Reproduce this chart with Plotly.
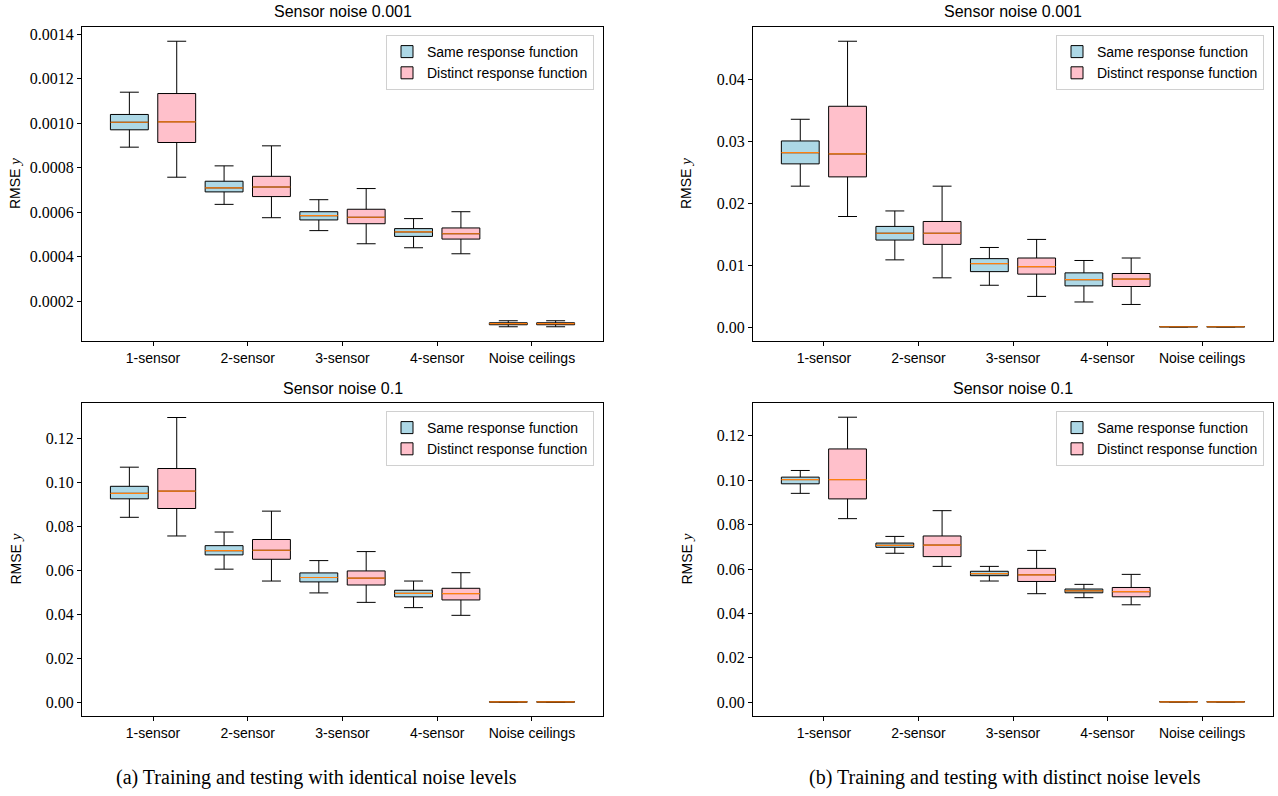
import plotly.graph_objects as go

categories = ["1-sensor", "2-sensor", "3-sensor", "4-sensor", "Noise ceilings"]
positions = [1, 2, 3, 4, 5]
series_names = ["Same response function", "Distinct response function"]
fill_colors = ["#add8e6", "#ffc0cb"]
median_color = "#ff7f0e"

# ---- (a) identical noise levels, sensor noise 0.001 ----
a_top_same_low = [0.000893, 0.000636, 0.000518, 0.000441, 0.000086]
a_top_same_q1 = [0.000971, 0.000692, 0.000566, 0.000492, 0.000095]
a_top_same_med = [0.001005, 0.000710, 0.000585, 0.000512, 0.000100]
a_top_same_q3 = [0.001040, 0.000740, 0.000603, 0.000527, 0.000104]
a_top_same_high = [0.001140, 0.000809, 0.000657, 0.000572, 0.000113]

a_top_dist_low = [0.000758, 0.000576, 0.000459, 0.000414, 0.000086]
a_top_dist_q1 = [0.000914, 0.000671, 0.000549, 0.000480, 0.000095]
a_top_dist_med = [0.001007, 0.000714, 0.000578, 0.000504, 0.000100]
a_top_dist_q3 = [0.001134, 0.000762, 0.000614, 0.000530, 0.000104]
a_top_dist_high = [0.001369, 0.000899, 0.000707, 0.000603, 0.000113]

# ---- (a) identical noise levels, sensor noise 0.1 ----
a_bot_same_low = [0.0842, 0.0606, 0.0498, 0.0431, 0.0001]
a_bot_same_q1 = [0.0926, 0.0671, 0.0548, 0.0480, 0.00015]
a_bot_same_med = [0.0951, 0.0690, 0.0568, 0.0496, 0.0002]
a_bot_same_q3 = [0.0983, 0.0713, 0.0589, 0.0510, 0.00025]
a_bot_same_high = [0.1070, 0.0775, 0.0645, 0.0552, 0.0003]

a_bot_dist_low = [0.0757, 0.0552, 0.0455, 0.0396, 0.0001]
a_bot_dist_q1 = [0.0882, 0.0651, 0.0534, 0.0466, 0.00015]
a_bot_dist_med = [0.0961, 0.0692, 0.0565, 0.0495, 0.0002]
a_bot_dist_q3 = [0.1064, 0.0741, 0.0598, 0.0519, 0.00025]
a_bot_dist_high = [0.1296, 0.0870, 0.0686, 0.0590, 0.0003]

# ---- (b) distinct noise levels, sensor noise 0.001 ----
b_top_same_low = [0.0228, 0.0109, 0.0068, 0.0041, 0.00008]
b_top_same_q1 = [0.0264, 0.0141, 0.0090, 0.0067, 0.00009]
b_top_same_med = [0.0282, 0.0152, 0.0103, 0.0077, 0.0001]
b_top_same_q3 = [0.0301, 0.0163, 0.0111, 0.0088, 0.00011]
b_top_same_high = [0.0336, 0.0188, 0.0129, 0.0108, 0.00012]

b_top_dist_low = [0.0179, 0.0080, 0.0050, 0.0037, 0.00008]
b_top_dist_q1 = [0.0243, 0.0134, 0.0086, 0.0066, 0.00009]
b_top_dist_med = [0.0280, 0.0152, 0.0098, 0.0078, 0.0001]
b_top_dist_q3 = [0.0357, 0.0171, 0.0112, 0.0087, 0.00011]
b_top_dist_high = [0.0462, 0.0228, 0.0142, 0.0112, 0.00012]

# ---- (b) distinct noise levels, sensor noise 0.1 ----
b_bot_same_low = [0.0941, 0.0671, 0.0546, 0.0471, 0.0001]
b_bot_same_q1 = [0.0984, 0.0698, 0.0570, 0.0493, 0.00015]
b_bot_same_med = [0.1003, 0.0707, 0.0579, 0.0502, 0.0002]
b_bot_same_q3 = [0.1014, 0.0717, 0.0590, 0.0510, 0.00025]
b_bot_same_high = [0.1044, 0.0747, 0.0612, 0.0531, 0.0003]

b_bot_dist_low = [0.0827, 0.0612, 0.0489, 0.0439, 0.0001]
b_bot_dist_q1 = [0.0916, 0.0656, 0.0544, 0.0475, 0.00015]
b_bot_dist_med = [0.1003, 0.0708, 0.0574, 0.0498, 0.0002]
b_bot_dist_q3 = [0.1141, 0.0749, 0.0603, 0.0517, 0.00025]
b_bot_dist_high = [0.1284, 0.0863, 0.0684, 0.0576, 0.0003]

subplot_titles = ["Sensor noise 0.001", "Sensor noise 0.1"]
captions = ["(a) Training and testing with identical noise levels",
            "(b) Training and testing with distinct noise levels"]

W, H = 1278, 796
def px_x(p): return p / W
def px_y(p): return 1 - p / H

panels = [
    dict(ax="", l=82, r=603, t=27, b=341, leg="legend", ty=12,
         same=(a_top_same_low, a_top_same_q1, a_top_same_med, a_top_same_q3, a_top_same_high),
         dist=(a_top_dist_low, a_top_dist_q1, a_top_dist_med, a_top_dist_q3, a_top_dist_high),
         yr=[0.000022, 0.001433], tv=[0.0002, 0.0004, 0.0006, 0.0008, 0.0010, 0.0012, 0.0014], fmt=".4f",
         title=subplot_titles[0]),
    dict(ax="2", l=753, r=1273, t=27, b=341, leg="legend2", ty=12,
         same=(b_top_same_low, b_top_same_q1, b_top_same_med, b_top_same_q3, b_top_same_high),
         dist=(b_top_dist_low, b_top_dist_q1, b_top_dist_med, b_top_dist_q3, b_top_dist_high),
         yr=[-0.0022, 0.0485], tv=[0.0, 0.01, 0.02, 0.03, 0.04], fmt=".2f",
         title=subplot_titles[0]),
    dict(ax="3", l=82, r=603, t=403, b=716, leg="legend3", ty=388,
         same=(a_bot_same_low, a_bot_same_q1, a_bot_same_med, a_bot_same_q3, a_bot_same_high),
         dist=(a_bot_dist_low, a_bot_dist_q1, a_bot_dist_med, a_bot_dist_q3, a_bot_dist_high),
         yr=[-0.0062, 0.1362], tv=[0.0, 0.02, 0.04, 0.06, 0.08, 0.10, 0.12], fmt=".2f",
         title=subplot_titles[1]),
    dict(ax="4", l=753, r=1273, t=403, b=716, leg="legend4", ty=388,
         same=(b_bot_same_low, b_bot_same_q1, b_bot_same_med, b_bot_same_q3, b_bot_same_high),
         dist=(b_bot_dist_low, b_bot_dist_q1, b_bot_dist_med, b_bot_dist_q3, b_bot_dist_high),
         yr=[-0.0062, 0.1348], tv=[0.0, 0.02, 0.04, 0.06, 0.08, 0.10, 0.12], fmt=".2f",
         title=subplot_titles[1]),
]

offsets = [-0.25, 0.25]
box_width = 0.4

fig = go.Figure()
layout = dict(
    width=W, height=H, margin=dict(l=0, r=0, t=0, b=0),
    paper_bgcolor="white", plot_bgcolor="white", boxmode="overlay",
    showlegend=True, annotations=[], hovermode=False,
)

serif = "Liberation Serif"
sans = "Liberation Sans"

for p in panels:
    xa = "x" + p["ax"]
    ya = "y" + p["ax"]
    for si, key in enumerate(["same", "dist"]):
        low, q1, med, q3, high = p[key]
        xs = [pos + offsets[si] for pos in positions]
        fig.add_trace(go.Box(
            x=xs, q1=q1, median=med, q3=q3, lowerfence=low, upperfence=high,
            width=box_width, whiskerwidth=0.5,
            fillcolor=fill_colors[si], line=dict(color="black", width=1),
            name=series_names[si], legend=p["leg"], showlegend=True,
            boxpoints=False, xaxis=xa, yaxis=ya, hoverinfo="skip",
        ))
    for si, key in enumerate(["same", "dist"]):
        med = p[key][2]
        mx, my = [], []
        for pos, m in zip(positions, med):
            c = pos + offsets[si]
            mx += [c - box_width / 2, c + box_width / 2, None]
            my += [m, m, None]
        fig.add_trace(go.Scatter(
            x=mx, y=my, mode="lines", line=dict(color=median_color, width=1.2),
            showlegend=False, xaxis=xa, yaxis=ya, hoverinfo="skip",
        ))

    axn = p["ax"]
    layout["xaxis" + axn] = dict(
        domain=[px_x(p["l"]), px_x(p["r"])], anchor="y" + axn,
        range=[0.25, 5.75], tickvals=positions, ticktext=categories,
        showline=True, linecolor="black", linewidth=1, mirror=True,
        ticks="outside", ticklen=4, tickcolor="black", showgrid=False, zeroline=False,
        tickfont=dict(family=sans, size=14, color="black"), automargin=False,
    )
    layout["yaxis" + axn] = dict(
        domain=[px_y(p["b"]), px_y(p["t"])], anchor="x" + axn,
        range=p["yr"], tickvals=p["tv"], tickformat=p["fmt"],
        showline=True, linecolor="black", linewidth=1, mirror=True,
        ticks="outside", ticklen=4, tickcolor="black", showgrid=False, zeroline=False,
        tickfont=dict(family=serif, size=16, color="black"), automargin=False,
    )
    layout[p["leg"]] = dict(
        x=px_x(p["r"] - 9), y=px_y(p["t"] + 8), xanchor="right", yanchor="top",
        bgcolor="rgba(255,255,255,0.8)", bordercolor="#d0d0d0", borderwidth=1,
        font=dict(family=sans, size=14, color="black"), tracegroupgap=0,
    )
    layout["annotations"].append(dict(
        text=p["title"], x=px_x((p["l"] + p["r"]) / 2), y=px_y(p["ty"]),
        xref="paper", yref="paper", xanchor="center", yanchor="middle",
        showarrow=False, font=dict(family=sans, size=16, color="black"),
    ))
    layout["annotations"].append(dict(
        text="RMSE <span style='font-family:Liberation Serif;font-style:italic;font-size:15px'>y</span>",
        x=px_x(p["l"] - 67), y=px_y((p["t"] + p["b"]) / 2),
        xref="paper", yref="paper", xanchor="center", yanchor="middle", textangle=-90,
        showarrow=False, font=dict(family=sans, size=14, color="black"),
    ))

for cap, cx in zip(captions, [316, 1005]):
    layout["annotations"].append(dict(
        text=cap, x=px_x(cx), y=px_y(777), xref="paper", yref="paper",
        xanchor="center", yanchor="middle", showarrow=False,
        font=dict(family=serif, size=20, color="black"),
    ))

fig.update_layout(**layout)
# remove the default page margin so the figure sits at the window's top-left corner
fig.write_html("out.html", config={"displayModeBar": False},
               post_script="document.body.style.margin='0px';")
